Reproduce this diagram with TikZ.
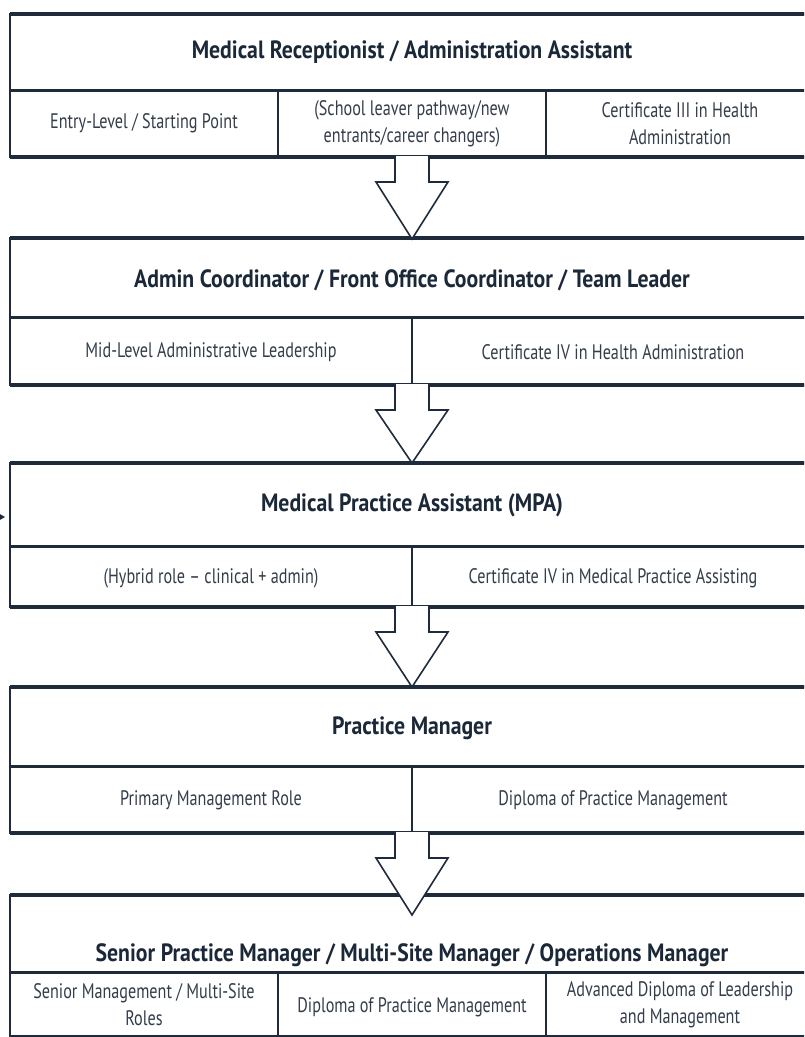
\documentclass[tikz,border=0pt]{standalone}
\usepackage{fontspec}
\setmainfont{PT Sans}
\newfontfamily\titlefont{PT Sans}[FakeStretch=0.87]
\newfontfamily\subfont{PT Sans}[FakeStretch=0.77]
\usetikzlibrary{calc,arrows.meta}
\definecolor{navy}{HTML}{1F2B3A}
\definecolor{titlec}{HTML}{1B2838}
\definecolor{subc}{HTML}{343D4A}
\tikzset{
  frame/.style={draw=navy, line width=2.4pt, fill=white, inner sep=0pt, outer sep=0pt, minimum width=804pt},
  thickline/.style={draw=navy, line width=3.4pt},
  divline/.style={draw=navy, line width=3pt},
  vline/.style={draw=navy, line width=1.6pt},
  titletext/.style={text=titlec, font=\titlefont\fontsize{25}{29}\selectfont\bfseries, inner sep=0pt},
  subtext/.style={text=subc, font=\subfont\fontsize{21}{27}\selectfont, align=center, inner sep=0pt},
  barrow/.style={draw=navy, line width=1.6pt, fill=white, line join=miter},
}
\newcommand{\blockarrow}[3]{%
  \path[barrow] ($(#1.south)+(-17,-1)$) -- ($(#1.south)+(-17,25)$) -- ($(#1.south)+(-36,25)$)
    -- ($(#2.north)+(0,#3)$) -- ($(#1.south)+(36,25)$) -- ($(#1.south)+(17,25)$) -- ($(#1.south)+(17,-1)$);}
\begin{document}
\begin{tikzpicture}[x=1pt,y=-1pt]
\clip (0,0) rectangle (804,1037);
\fill[white] (0,0) rectangle (804,1037);

% ---------- Level 1
\node[frame, minimum height=143pt] (L1) at (412,85.5) {};
\draw[thickline] (L1.north west) -- (L1.north east);
\draw[thickline] (L1.south west) -- (L1.south east);
\draw[divline] (10,90) -- (814,90);
\draw[vline] (278,90) -- (278,157);
\draw[vline] (546,90) -- (546,157);
\node[titletext] (T1) at (412,52) {Medical Receptionist / Administration Assistant};
\node[subtext] (S11) at (144,123) {Entry-Level / Starting Point};
\node[subtext] (S12) at (412,124) {(School leaver pathway/new\\entrants/career changers)};
\node[subtext] (S13) at (680,124) {Certificate III in Health\\Administration};

% ---------- Level 2
\node[frame, minimum height=147pt] (L2) at (412,311.5) {};
\draw[thickline] (L2.north west) -- (L2.north east);
\draw[thickline] (L2.south west) -- (L2.south east);
\draw[divline] (10,317) -- (814,317);
\draw[vline] (412,317) -- (412,385);
\node[titletext] (T2) at (412,280) {Admin Coordinator / Front Office Coordinator / Team Leader};
\node[subtext] (S21) at (211,352) {Mid-Level Administrative Leadership};
\node[subtext] (S22) at (613,352) {Certificate IV in Health Administration};

% ---------- Level 3
\node[frame, minimum height=144pt] (L3) at (412,535) {};
\draw[thickline] (L3.north west) -- (L3.north east);
\draw[thickline] (L3.south west) -- (L3.south east);
\draw[divline] (10,546) -- (814,546);
\draw[vline] (412,546) -- (412,607);
\node[titletext] (T3) at (412,505) {Medical Practice Assistant (MPA)};
\node[subtext] (S31) at (211,578) {(Hybrid role – clinical + admin)};
\node[subtext] (S32) at (613,578) {Certificate IV in Medical Practice Assisting};

% ---------- Level 4
\node[frame, minimum height=146pt] (L4) at (412,760) {};
\draw[thickline] (L4.north west) -- (L4.north east);
\draw[thickline] (L4.south west) -- (L4.south east);
\draw[divline] (10,766) -- (814,766);
\draw[vline] (412,766) -- (412,833);
\node[titletext] (T4) at (412,728) {Practice Manager};
\node[subtext] (S41) at (211,800) {Primary Management Role};
\node[subtext] (S42) at (613,800) {Diploma of Practice Management};

% ---------- Level 5
\node[frame, minimum height=141pt] (L5) at (412,965.5) {};
\draw[thickline] (L5.north west) -- (L5.north east);
\draw[divline] (10,972) -- (814,972);
\draw[vline] (278,972) -- (278,1036);
\draw[vline] (546,972) -- (546,1036);
\node[subtext] (S51) at (144,1005) {Senior Management / Multi-Site\\Roles};
\node[subtext] (S52) at (412,1007) {Diploma of Practice Management};
\node[subtext] (S53) at (680,1005) {Advanced Diploma of Leadership\\and Management};

% ---------- Arrows
\blockarrow{L1}{L2}{1}
\blockarrow{L2}{L3}{0}
\blockarrow{L3}{L4}{0}
\blockarrow{L4}{L5}{20}
\node[titletext] (T5) at (412,955) {Senior Practice Manager / Multi-Site Manager / Operations Manager};

% ---------- small arrow tip at left edge
\coordinate (m0) at (-14,517);
\coordinate (m1) at (5,517);
\draw[navy, line width=1.6pt, -{Stealth[length=7pt,width=8pt]}] (m0) -- (m1);
\end{tikzpicture}
\end{document}
